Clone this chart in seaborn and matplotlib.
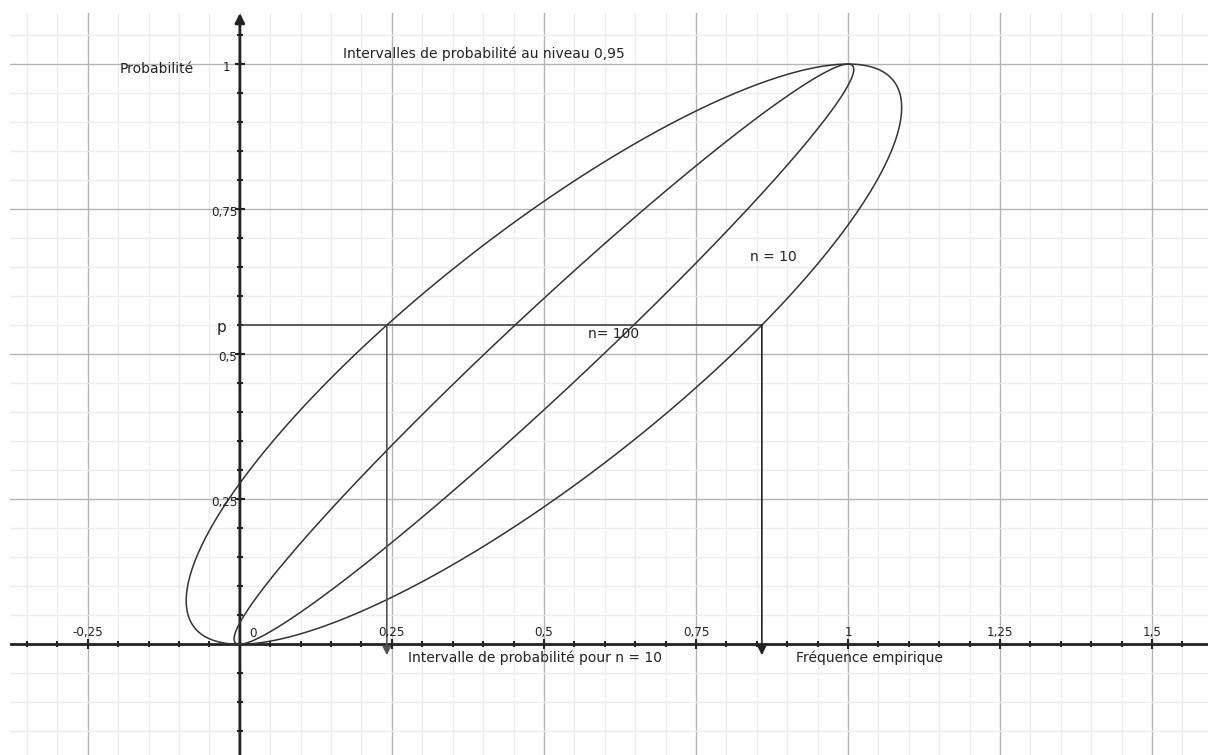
import numpy as np
import pandas as pd
import matplotlib
matplotlib.use("Agg")
import matplotlib.pyplot as plt
import seaborn as sns

# ---- data ----
sample_sizes = [10, 100]          # n of each probability-interval curve
z_level = 1.96                    # 0.95 level
p_value = 0.55                    # the highlighted probability p
x_tick_values = [-0.25, 0.25, 0.5, 0.75, 1.0, 1.25, 1.5]
x_tick_labels = ["-0,25", "0,25", "0,5", "0,75", "1", "1,25", "1,5"]
y_tick_values = [0.25, 0.5, 0.75, 1.0]
y_tick_labels = ["0,25", "0,5", "0,75", "1"]
curve_labels = ["n = 10", "n= 100"]

# ---- curves: probability intervals p ± z*sqrt(p(1-p)/n) ----
t = np.linspace(0, np.pi, 400)
p_grid = (1 - np.cos(t)) / 2
rows = []
for n in sample_sizes:
    half = z_level * np.sqrt(p_grid * (1 - p_grid) / n)
    f = np.concatenate([p_grid - half, (p_grid + half)[::-1]])
    p = np.concatenate([p_grid, p_grid[::-1]])
    rows.append(pd.DataFrame({"f": f, "p": p, "n": n, "order": np.arange(len(f))}))
df = pd.concat(rows, ignore_index=True)

sns.set_theme(style="white")
plt.rcParams["font.family"] = ["DejaVu Sans"]

fig = plt.figure(figsize=(12.08, 7.55), dpi=100)
ax = fig.add_axes([10 / 1208, 0, 1198 / 1208, 742 / 755])
ax.set_xlim(-0.378, 1.592)
ax.set_ylim(-0.191, 1.088)
for s in ax.spines.values():
    s.set_visible(False)

# grid
ax.set_xticks(np.arange(-0.25, 1.6, 0.25))
ax.set_yticks(np.arange(0, 1.1, 0.25))
ax.set_xticks(np.arange(-0.35, 1.6, 0.05), minor=True)
ax.set_yticks(np.arange(-0.15, 1.1, 0.05), minor=True)
ax.grid(which="major", color="#b4b4b4", lw=1.0)
ax.grid(which="minor", color="#ececec", lw=1.0)
ax.tick_params(which="both", length=0, labelbottom=False, labelleft=False)
ax.set_axisbelow(True)

ink = "#222222"
# axes
ax.axhline(0, color=ink, lw=2, zorder=3)
ax.annotate("", xy=(0, 1.088), xytext=(0, -0.191),
            arrowprops=dict(arrowstyle="-|>", color=ink, lw=2, mutation_scale=14,
                            shrinkA=0, shrinkB=0), zorder=3)
# tick marks on axes
xt_minor = np.round(np.arange(-0.35, 1.6, 0.05), 2)
yt_minor = np.round(np.arange(-0.15, 1.06, 0.05), 2)
ax.plot(xt_minor, np.zeros_like(xt_minor), ls="none", marker="|", ms=4, mew=1.5, color=ink, zorder=4)
ax.plot(x_tick_values, np.zeros(len(x_tick_values)), ls="none", marker="|", ms=7, mew=1.5, color=ink, zorder=4)
ax.plot(np.zeros_like(yt_minor), yt_minor, ls="none", marker="_", ms=4, mew=1.5, color=ink, zorder=4)
ax.plot(np.zeros(len(y_tick_values)), y_tick_values, ls="none", marker="_", ms=7, mew=1.5, color=ink, zorder=4)

# curves
sns.lineplot(data=df, x="f", y="p", units="n", estimator=None, sort=False,
             color="#333333", lw=1.1, ax=ax, zorder=5)
ax.set_xlabel("")
ax.set_ylabel("")

# p line and arrows (n = 10 interval)
half10 = z_level * np.sqrt(p_value * (1 - p_value) / sample_sizes[0])
f_lo, f_hi = p_value - half10, p_value + half10
ax.plot([0, f_hi], [p_value, p_value], color="#333333", lw=1.1, zorder=5)
ax.annotate("", xy=(f_lo, -0.019), xytext=(f_lo, p_value),
            arrowprops=dict(arrowstyle="-|>", color="#555555", lw=1.2, mutation_scale=13,
                            shrinkA=0, shrinkB=0), zorder=6)
ax.annotate("", xy=(f_hi, -0.019), xytext=(f_hi, p_value),
            arrowprops=dict(arrowstyle="-|>", color=ink, lw=1.2, mutation_scale=13,
                            shrinkA=0, shrinkB=0), zorder=6)

fs = 10
tfs = 8.6
tick_txt = dict(color=ink, fontsize=tfs, va="center", zorder=7)
txt = dict(color=ink, fontsize=fs, va="center", zorder=7)
for xv, lab in zip(x_tick_values, x_tick_labels):
    ax.text(xv, 0.021, lab, ha="center", **tick_txt)
ax.text(0.021, 0.019, "0", ha="center", **tick_txt)
for yv, lab in zip(y_tick_values, y_tick_labels):
    ax.text(-0.004 if yv != 1.0 else -0.016, yv - 0.006, lab, ha="right", **tick_txt)

ax.text(-0.031, 0.546, "p", ha="center", color=ink, fontsize=11, va="center", zorder=7)
ax.text(-0.1365, 0.991, "Probabilité", ha="center", **txt)
ax.text(0.401, 1.017, "Intervalles de probabilité au niveau 0,95", ha="center", **txt)
ax.text(0.485, -0.024, "Intervalle de probabilité pour n = 10", ha="center", **txt)
ax.text(1.035, -0.024, "Fréquence empirique", ha="center", **txt)
ax.text(0.877, 0.667, curve_labels[0], ha="center", **txt)
ax.text(0.615, 0.534, curve_labels[1], ha="center", **txt)

fig.savefig("out.png", dpi=100, facecolor="white")
